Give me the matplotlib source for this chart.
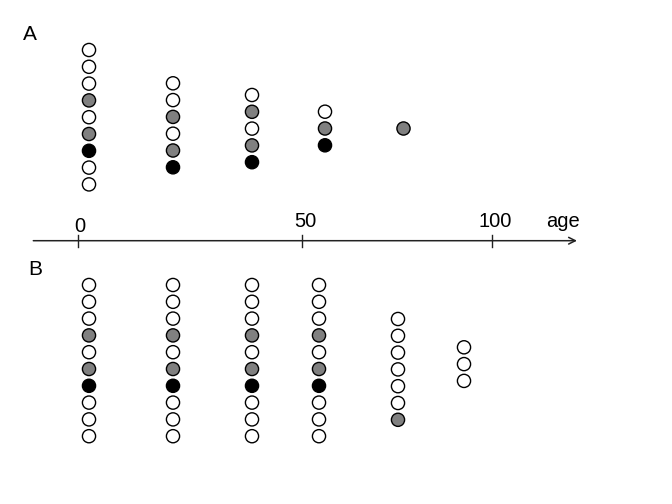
import matplotlib
matplotlib.use("Agg")
import matplotlib.pyplot as plt

plt.rcParams['font.family'] = ['Liberation Sans', 'DejaVu Sans']

# schematic layout in pixel units of a 672x504 canvas
ROW_STEP = 16.8
COLORS = {'w': 'white', 'g': '#808080', 'k': 'black'}

# panel A: column x, top y, circle colours (top to bottom)
a_x = [89, 173, 252, 325, 403]
a_top = [50, 83.3, 95, 111.7, 128.3]
a_cols = [
    ['w', 'w', 'w', 'g', 'w', 'g', 'k', 'w', 'w'],
    ['w', 'w', 'g', 'w', 'g', 'k'],
    ['w', 'g', 'w', 'g', 'k'],
    ['w', 'g', 'k'],
    ['g'],
]

# panel B
b_x = [89, 173, 252, 319, 398, 464]
b_top = [285, 285, 285, 285, 319, 347.3]
b_cols = [
    ['w', 'w', 'w', 'g', 'w', 'g', 'k', 'w', 'w', 'w'],
    ['w', 'w', 'w', 'g', 'w', 'g', 'k', 'w', 'w', 'w'],
    ['w', 'w', 'w', 'g', 'w', 'g', 'k', 'w', 'w', 'w'],
    ['w', 'w', 'w', 'g', 'w', 'g', 'k', 'w', 'w', 'w'],
    ['w', 'w', 'w', 'w', 'w', 'w', 'g'],
    ['w', 'w', 'w'],
]

# age axis
age_ticks = [0, 50, 100]
age_tick_x = [78.3, 302.3, 492.3]
axis_y = 240.7
axis_start, axis_end = 33.3, 577


def draw_columns(ax, xs, tops, cols):
    for x, top, col in zip(xs, tops, cols):
        ys = [top + i * ROW_STEP for i in range(len(col))]
        ax.scatter([x] * len(col), ys, s=90, c=[COLORS[c] for c in col],
                   edgecolors='black', linewidths=1.0, zorder=3)


fig = plt.figure(figsize=(6.72, 5.04), dpi=100)
ax = fig.add_axes([0, 0, 1, 1])
ax.set_xlim(0, 672)
ax.set_ylim(504, 0)
ax.axis('off')

draw_columns(ax, a_x, a_top, a_cols)
draw_columns(ax, b_x, b_top, b_cols)

# axis arrow
ax.annotate('', xy=(axis_end, axis_y), xytext=(axis_start, axis_y),
            arrowprops=dict(arrowstyle='->', color='#222222', lw=1.1,
                            shrinkA=0, shrinkB=0, mutation_scale=12))
for t, x in zip(age_ticks, age_tick_x):
    ax.plot([x, x], [235, 246.7], color='#222222', lw=1.0)
    base = 232 if t == 0 else 226.7
    ax.text(x + (2 if t == 0 else 3), base, str(t), fontsize=14.5,
            ha='center', va='baseline')
ax.text(563, 226.7, 'age', fontsize=14.5, ha='center', va='baseline')

ax.text(22.7, 40, 'A', fontsize=15, ha='left', va='baseline')
ax.text(28.3, 275, 'B', fontsize=15, ha='left', va='baseline')

fig.savefig('out.png', dpi=100)
